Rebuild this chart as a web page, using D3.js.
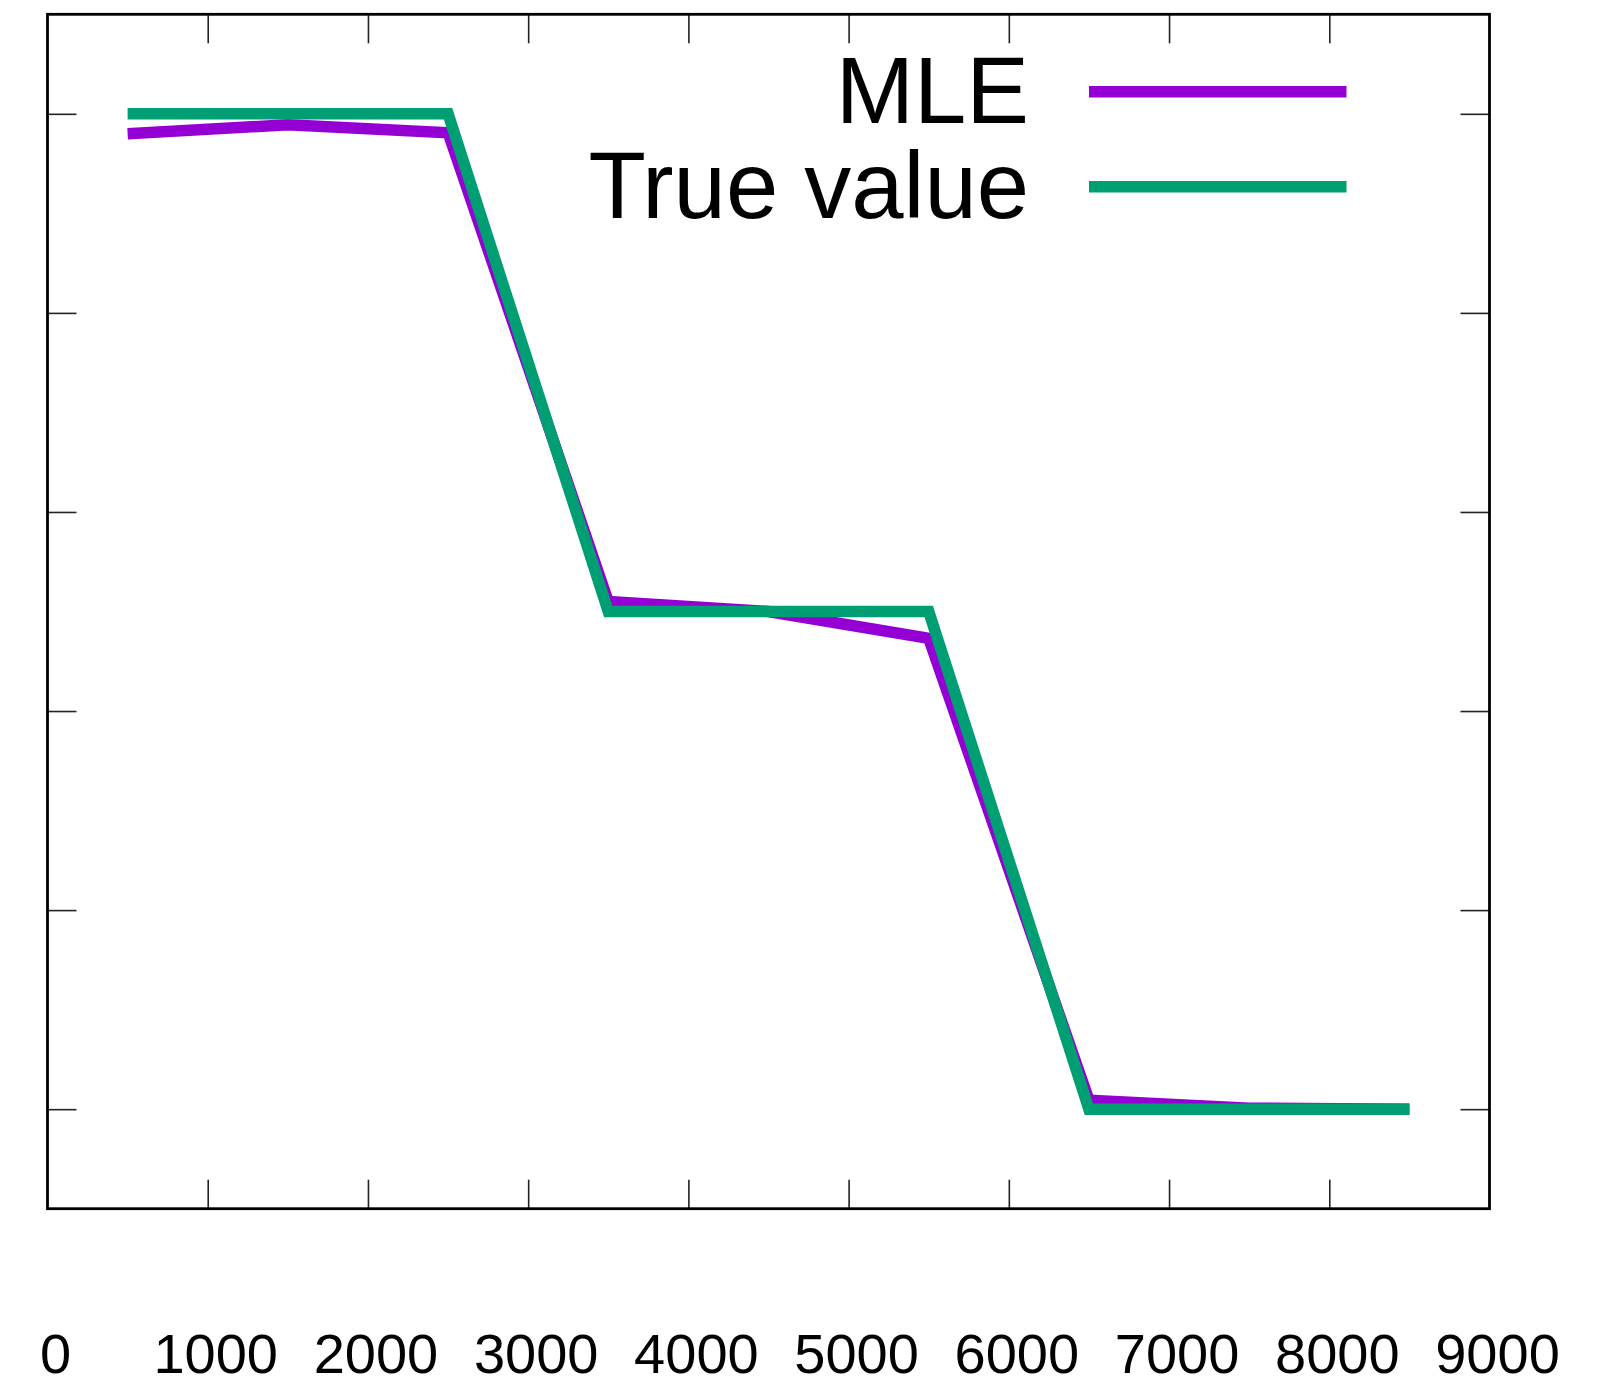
<!DOCTYPE html>
<html>
<head>
<meta charset="utf-8">
<script src="https://cdn.jsdelivr.net/npm/d3@7"></script>
<style>
  html, body { margin: 0; padding: 0; background: #fff; }
  svg { display: block; font-family: "Liberation Sans", Arial, Helvetica, sans-serif; }
</style>
</head>
<body>
<svg id="chart" width="1620" height="1382"></svg>
<script>
// Sample positions (x) and the two series drawn against them
const xValues = [500, 1500, 2500, 3500, 4500, 5500, 6500, 7500, 8500];
const mleValues = [0.980, 0.989, 0.981, 0.510, 0.500, 0.473, 0.009, 0.001, 0.000];
const trueValues = [1.0, 1.0, 1.0, 0.5, 0.5, 0.5, 0.0, 0.0, 0.0];

const xTickValues = [0, 1000, 2000, 3000, 4000, 5000, 6000, 7000, 8000, 9000];
const yTickValues = [0, 0.2, 0.4, 0.6, 0.8, 1.0];

const seriesNames = ["MLE", "True value"];
const seriesColors = ["#9400d3", "#009e73"];

const svg = d3.select("#chart");

const plot = { left: 47.5, right: 1489.5, top: 14.3, bottom: 1208.7 };

const x = d3.scaleLinear().domain([0, 9000]).range([plot.left, plot.right]);
const y = d3.scaleLinear().domain([-0.1, 1.1]).range([plot.bottom, plot.top]);

// Inward-pointing ticks on all four sides, no labels on the y axis
const tickLen = 29;
const innerX = xTickValues.filter(v => v > 0 && v < 9000);

const bottomAxis = d3.axisBottom(x).tickValues(innerX).tickSize(-tickLen).tickFormat("");
const topAxis = d3.axisTop(x).tickValues(innerX).tickSize(-tickLen).tickFormat("");
const leftAxis = d3.axisLeft(y).tickValues(yTickValues).tickSize(-tickLen).tickFormat("");
const rightAxis = d3.axisRight(y).tickValues(yTickValues).tickSize(-tickLen).tickFormat("");

function styleAxis(g) {
  g.select(".domain").remove();
  g.selectAll(".tick line").attr("stroke", "#222").attr("stroke-width", 1.6);
}

svg.append("g").attr("transform", `translate(0,${plot.bottom})`).call(bottomAxis).call(styleAxis);
svg.append("g").attr("transform", `translate(0,${plot.top})`).call(topAxis).call(styleAxis);
svg.append("g").attr("transform", `translate(${plot.left},0)`).call(leftAxis).call(styleAxis);
svg.append("g").attr("transform", `translate(${plot.right},0)`).call(rightAxis).call(styleAxis);

// x tick labels sit well below the frame
svg.append("g")
  .selectAll("text")
  .data(xTickValues)
  .join("text")
  .attr("x", d => x(d) + 8)
  .attr("y", 1373)
  .attr("text-anchor", "middle")
  .attr("font-size", 56)
  .attr("fill", "#000")
  .text(d => d);

// Series lines
const line = d3.line()
  .x(d => x(d[0]))
  .y(d => y(d[1]));

const series = [mleValues, trueValues];
series.forEach((vals, i) => {
  svg.append("path")
    .datum(xValues.map((xv, j) => [xv, vals[j]]))
    .attr("d", line)
    .attr("fill", "none")
    .attr("stroke", seriesColors[i])
    .attr("stroke-width", 11.5)
    .attr("stroke-linejoin", "miter")
    .attr("stroke-linecap", "butt");
});

// Frame
svg.append("rect")
  .attr("x", plot.left)
  .attr("y", plot.top)
  .attr("width", plot.right - plot.left)
  .attr("height", plot.bottom - plot.top)
  .attr("fill", "none")
  .attr("stroke", "#000")
  .attr("stroke-width", 2.8);

// Legend
const legend = svg.append("g");
const legendRows = [
  { textY: 123.3, lineY: 91.7 },
  { textY: 218.3, lineY: 186.7 }
];
seriesNames.forEach((name, i) => {
  legend.append("text")
    .attr("x", 1029)
    .attr("y", legendRows[i].textY)
    .attr("text-anchor", "end")
    .attr("font-size", 94)
    .attr("fill", "#000")
    .text(name);
  legend.append("line")
    .attr("x1", 1089)
    .attr("x2", 1346.5)
    .attr("y1", legendRows[i].lineY)
    .attr("y2", legendRows[i].lineY)
    .attr("stroke", seriesColors[i])
    .attr("stroke-width", 11.5);
});
</script>
</body>
</html>
